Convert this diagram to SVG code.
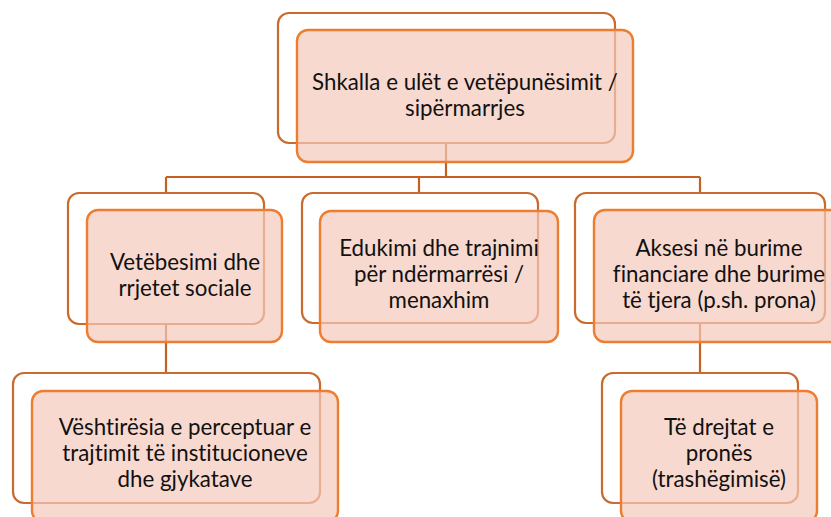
<svg xmlns="http://www.w3.org/2000/svg" width="831" height="517" viewBox="0 0 831 517">
<style>
.back{fill:#ffffff;stroke:#C96A2E;stroke-width:2.2}
.front{fill:#F5C9BA;fill-opacity:0.7;stroke:#ED7D31;stroke-width:2.4}
.conn{fill:none;stroke:#C55F22;stroke-width:2.2}
text{font-family:Lato,"Open Sans","Liberation Sans",sans-serif;font-size:22.3px;fill:#111;text-anchor:middle;font-variant-ligatures:none}
</style>
<rect width="831" height="517" fill="#fff"/>
<g id="connectors">
<path class="conn" d="M446,143 V177 M166,177 H700 M166,177 V193 M419,177 V193 M700,177 V193"/>
<path class="conn" d="M166,324 V373"/>
<path class="conn" d="M700,323 V373"/>
</g>
<g id="n0">
<rect class="back" x="278" y="13" width="337" height="130" rx="11"/>
<rect class="front" x="297" y="30" width="336" height="132" rx="11"/>
<text x="465" y="90">Shkalla e ulët e vetëpunësimit /</text>
<text x="465" y="116">sipërmarrjes</text>
</g>
<g id="n1">
<rect class="back" x="68" y="193" width="196" height="131" rx="11"/>
<rect class="front" x="87" y="210" width="195" height="132" rx="11"/>
<text x="185" y="270">Vetëbesimi dhe</text>
<text x="185" y="296">rrjetet sociale</text>
</g>
<g id="n2">
<rect class="back" x="302" y="193" width="236" height="130" rx="11"/>
<rect class="front" x="320" y="211" width="238" height="131" rx="11"/>
<text x="439" y="256">Edukimi dhe trajnimi</text>
<text x="439" y="282">për ndërmarrësi /</text>
<text x="439" y="308">menaxhim</text>
</g>
<g id="n3">
<rect class="back" x="575" y="193" width="250" height="130" rx="11"/>
<rect class="front" x="594" y="210" width="250" height="132" rx="11"/>
<text x="719" y="256">Aksesi në burime</text>
<text x="719" y="282">financiare dhe burime</text>
<text x="719" y="308">të tjera (p.sh. prona)</text>
</g>
<g id="n4">
<rect class="back" x="13" y="373" width="307" height="130" rx="11"/>
<rect class="front" x="32" y="391" width="306" height="131" rx="11"/>
<text x="185" y="435">Vështirësia e perceptuar e</text>
<text x="185" y="461">trajtimit të institucioneve</text>
<text x="185" y="487">dhe gjykatave</text>
</g>
<g id="n5">
<rect class="back" x="602" y="373" width="196" height="130" rx="11"/>
<rect class="front" x="621" y="391" width="196" height="131" rx="11"/>
<text x="719" y="435">Të drejtat e</text>
<text x="719" y="461">pronës</text>
<text x="719" y="487">(trashëgimisë)</text>
</g>
</svg>
